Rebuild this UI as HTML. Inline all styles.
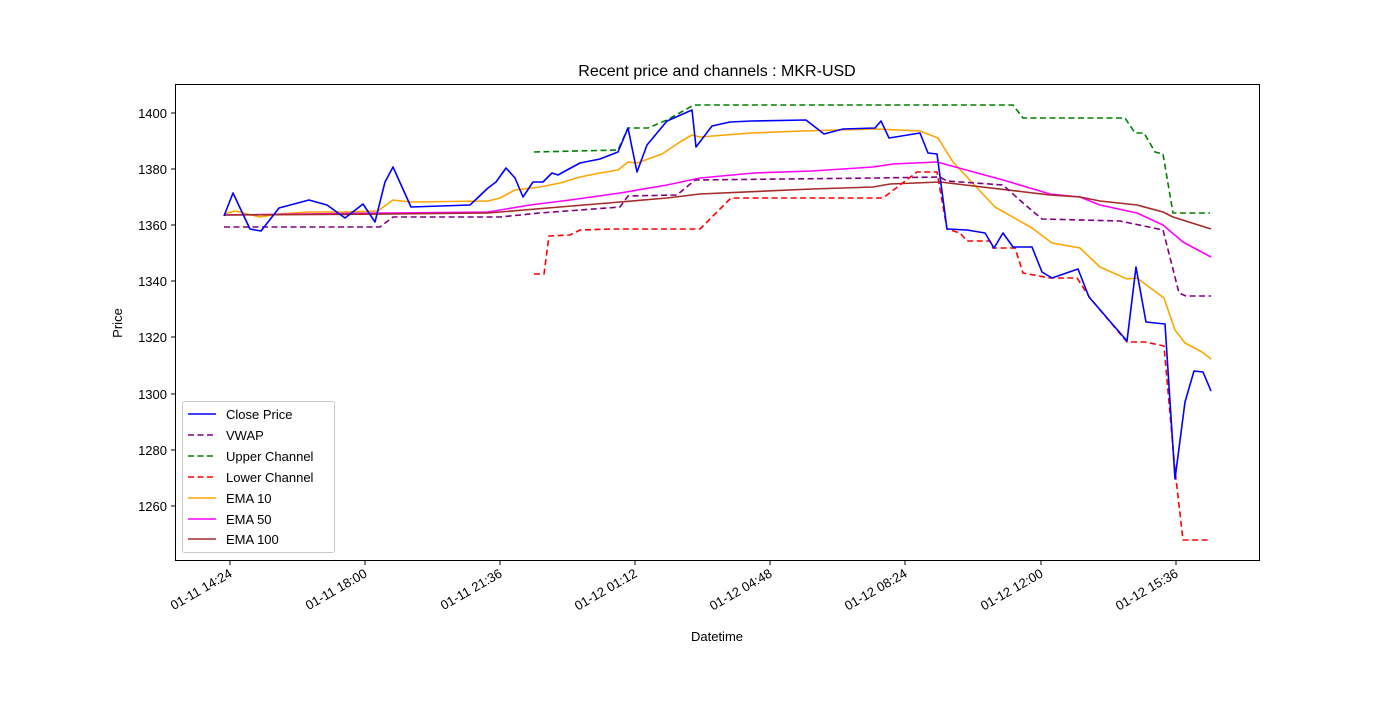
<!DOCTYPE html>
<html><head><style>body{margin:0;background:#fff}svg text{font-family:"Liberation Sans","DejaVu Sans",sans-serif;font-size:13px;fill:#000}</style></head>
<body>
<svg width="1400" height="700" xmlns="http://www.w3.org/2000/svg">
<rect width="1400" height="700" fill="#fff"/>
<text x="717" y="76" text-anchor="middle" style="font-size:16px">Recent price and channels : MKR-USD</text>
<g fill="none" stroke-width="1.6" stroke-linejoin="round">
<polyline stroke="#ffa500" points="224,214 235,211 260,217 279,214 309,212 345,212 378,211 393,200 410,202 488,201 500,198 515,190 540,187 560,183 580,177 600,173 618,170 628,162 637,163 662,154 680,142 692,135 700,137 751,133 802,131 876,129 920,131 938,138 953,162 995,207 1032,228 1052,243 1080,248 1100,267 1127,279 1137,278 1164,298 1175,330 1185,343 1202,352 1211,359"/>
<polyline stroke="#ff00ff" points="224,215 390,213 488,212 530,205 570,200 620,193 667,185 700,178 754,173 812,171 873,167 893,164 937,162 1003,180 1050,194 1080,197 1100,205 1137,213 1163,225 1183,242 1211,257"/>
<polyline stroke="#a52a2a" points="224,215 390,214 488,213 560,207 620,202 667,198 700,194 812,189 873,187 890,184 940,182 1050,195 1080,197 1100,201 1137,205 1163,212 1173,217 1211,229"/>
<g stroke-dasharray="6,3.5">
<polyline stroke="#800080" points="224,227 380,227 393,217 500,217 540,213 620,207 628,196 677,195 695,180 876,178 940,177 947,181 1003,185 1023,203 1042,219 1120,221 1163,230 1179,293 1186,296 1211,296"/>
<polyline stroke="#008000" points="534,152 618,150 628,128 648,128 667,120 692,106 695,105 1013,105 1023,118 1125,118 1135,133 1144,133 1155,152 1163,154 1173,213 1210,213"/>
<polyline stroke="#ff0000" points="534,274 544,274 549,236 570,235 580,230 612,229 700,229 731,198 883,198 917,172 937,172 947,229 960,233 967,241 990,241 993,248 1015,248 1023,273 1050,278 1077,278 1090,298 1127,342 1145,342 1164,346 1175,470 1183,540 1210,540"/>
</g>
<polyline stroke="#0000ff" points="224,216 233,193 241,210 250,229 255,230 261,231 279,208 309,200 327,205 345,218 363,204 375,222 385,182 393,167 411,207 470,205 488,188 496,182 506,168 515,178 523,197 533,182 543,182 552,173 558,175 567,170 580,163 600,159 618,152 628,128 637,172 647,145 667,121 692,110 696,147 712,126 730,122 752,121 806,120 824,134 843,129 875,128 881,121 889,138 920,133 928,153 937,154 947,229 967,230 985,233 994,248 1003,233 1013,247 1032,247 1042,272 1052,278 1078,269 1089,297 1127,341 1136,267 1146,322 1165,324 1175,479 1185,402 1194,371 1203,372 1211,391"/>
</g>
<rect x="175.5" y="84.5" width="1084" height="476" fill="none" stroke="#000" stroke-width="1"/>
<g stroke="#000">
<line x1="175" x2="171" y1="113" y2="113"/><line x1="175" x2="171" y1="169" y2="169"/><line x1="175" x2="171" y1="225" y2="225"/><line x1="175" x2="171" y1="281" y2="281"/><line x1="175" x2="171" y1="337" y2="337"/><line x1="175" x2="171" y1="394" y2="394"/><line x1="175" x2="171" y1="450" y2="450"/><line x1="175" x2="171" y1="506" y2="506"/>
<line y1="561" y2="565" x1="230" x2="230"/><line y1="561" y2="565" x1="365" x2="365"/><line y1="561" y2="565" x1="500" x2="500"/><line y1="561" y2="565" x1="635" x2="635"/><line y1="561" y2="565" x1="770" x2="770"/><line y1="561" y2="565" x1="905" x2="905"/><line y1="561" y2="565" x1="1041" x2="1041"/><line y1="561" y2="565" x1="1176" x2="1176"/>
</g>
<g text-anchor="end">
<text x="167" y="118">1400</text><text x="167" y="174">1380</text><text x="167" y="230">1360</text><text x="167" y="286">1340</text><text x="167" y="342">1320</text><text x="167" y="399">1300</text><text x="167" y="455">1280</text><text x="167" y="511">1260</text>
<text transform="translate(233,576) rotate(-30)">01-11 14:24</text>
<text transform="translate(368,576) rotate(-30)">01-11 18:00</text>
<text transform="translate(503,576) rotate(-30)">01-11 21:36</text>
<text transform="translate(638,576) rotate(-30)">01-12 01:12</text>
<text transform="translate(773,576) rotate(-30)">01-12 04:48</text>
<text transform="translate(908,576) rotate(-30)">01-12 08:24</text>
<text transform="translate(1044,576) rotate(-30)">01-12 12:00</text>
<text transform="translate(1179,576) rotate(-30)">01-12 15:36</text>
</g>
<text x="717" y="641" text-anchor="middle">Datetime</text>
<text transform="translate(122,323) rotate(-90)" text-anchor="middle">Price</text>
<rect x="182.5" y="401.5" width="152" height="151" rx="2" fill="#fff" stroke="#ccc"/>
<g stroke-width="1.6">
<line x1="188" x2="216" y1="414" y2="414" stroke="#0000ff"/>
<line x1="188" x2="216" y1="435" y2="435" stroke="#800080" stroke-dasharray="6,3.5"/>
<line x1="188" x2="216" y1="456" y2="456" stroke="#008000" stroke-dasharray="6,3.5"/>
<line x1="188" x2="216" y1="477" y2="477" stroke="#ff0000" stroke-dasharray="6,3.5"/>
<line x1="188" x2="216" y1="498" y2="498" stroke="#ffa500"/>
<line x1="188" x2="216" y1="519" y2="519" stroke="#ff00ff"/>
<line x1="188" x2="216" y1="539" y2="539" stroke="#a52a2a"/>
</g>
<text x="226" y="419">Close Price</text><text x="226" y="440">VWAP</text><text x="226" y="461">Upper Channel</text><text x="226" y="482">Lower Channel</text><text x="226" y="503">EMA 10</text><text x="226" y="524">EMA 50</text><text x="226" y="544">EMA 100</text>
</svg>
</body></html>
